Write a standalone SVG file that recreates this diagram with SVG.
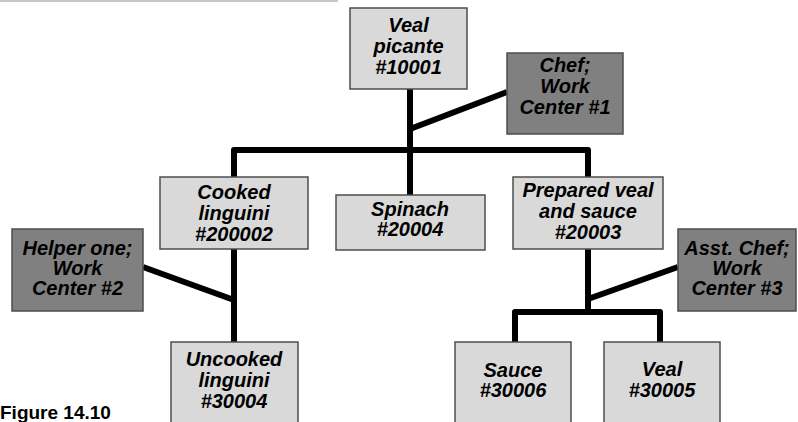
<svg xmlns="http://www.w3.org/2000/svg" width="798" height="422" viewBox="0 0 798 422">
<style>
.lt{fill:#d9d9d9;stroke:#4d4d4d;stroke-width:1.5}
.dk{fill:#808080;stroke:#4d4d4d;stroke-width:1.5}
.t{font-family:"Liberation Sans",Arial,sans-serif;font-size:20px;font-weight:bold;font-style:italic;fill:#000;text-anchor:middle}
.c{fill:none;stroke:#000;stroke-width:6;stroke-linejoin:round}
</style>
<rect x="0" y="0" width="338" height="2" fill="#c8c8c8"/>
<g id="connectors">
<polyline class="c" points="234,177 234,150 588,150 588,177"/>
<line class="c" x1="410" y1="89" x2="410" y2="195"/>
<line class="c" x1="410" y1="129" x2="507" y2="92"/>
<line class="c" x1="234" y1="249" x2="234" y2="342"/>
<line class="c" x1="143" y1="267" x2="234" y2="300"/>
<line class="c" x1="588" y1="249" x2="588" y2="312"/>
<line class="c" x1="678" y1="267" x2="588" y2="299"/>
<polyline class="c" points="515,342 515,312 660,312 660,342"/>
</g>
<g id="veal-picante"><rect class="lt" x="350" y="8" width="117" height="81"/>
<text class="t" x="408.5" y="32">Veal</text><text class="t" x="408.5" y="53">picante</text><text class="t" x="408.5" y="74">#10001</text></g>
<g id="chef"><rect class="dk" x="507" y="53" width="116" height="81"/>
<text class="t" x="565" y="72">Chef;</text><text class="t" x="565" y="93">Work</text><text class="t" x="565" y="114">Center #1</text></g>
<g id="cooked-linguini"><rect class="lt" x="160" y="177" width="148" height="72"/>
<text class="t" x="234" y="199">Cooked</text><text class="t" x="234" y="220">linguini</text><text class="t" x="234" y="241">#200002</text></g>
<g id="spinach"><rect class="lt" x="336" y="195" width="149" height="55"/>
<text class="t" x="410" y="216">Spinach</text><text class="t" x="410" y="236">#20004</text></g>
<g id="prepared-veal"><rect class="lt" x="513" y="177" width="150" height="72"/>
<text class="t" x="588" y="197">Prepared veal</text><text class="t" x="588" y="218">and sauce</text><text class="t" x="588" y="239">#20003</text></g>
<g id="helper-one"><rect class="dk" x="12" y="229" width="131" height="82"/>
<text class="t" x="77.5" y="255">Helper one;</text><text class="t" x="77.5" y="275">Work</text><text class="t" x="77.5" y="295">Center #2</text></g>
<g id="asst-chef"><rect class="dk" x="678" y="229" width="118" height="82"/>
<text class="t" x="737" y="255">Asst. Chef;</text><text class="t" x="737" y="275">Work</text><text class="t" x="737" y="295">Center #3</text></g>
<g id="uncooked-linguini"><rect class="lt" x="171" y="342" width="127" height="90"/>
<text class="t" x="234" y="366">Uncooked</text><text class="t" x="234" y="387">linguini</text><text class="t" x="234" y="408">#30004</text></g>
<g id="sauce"><rect class="lt" x="455" y="342" width="116" height="90"/>
<text class="t" x="513" y="377">Sauce</text><text class="t" x="513" y="397">#30006</text></g>
<g id="veal"><rect class="lt" x="604" y="342" width="116" height="90"/>
<text class="t" x="662" y="376">Veal</text><text class="t" x="662" y="397">#30005</text></g>
<text x="0" y="419" font-family="'Liberation Sans',Arial,sans-serif" font-size="19" font-weight="bold" fill="#000">Figure 14.10</text>
</svg>
